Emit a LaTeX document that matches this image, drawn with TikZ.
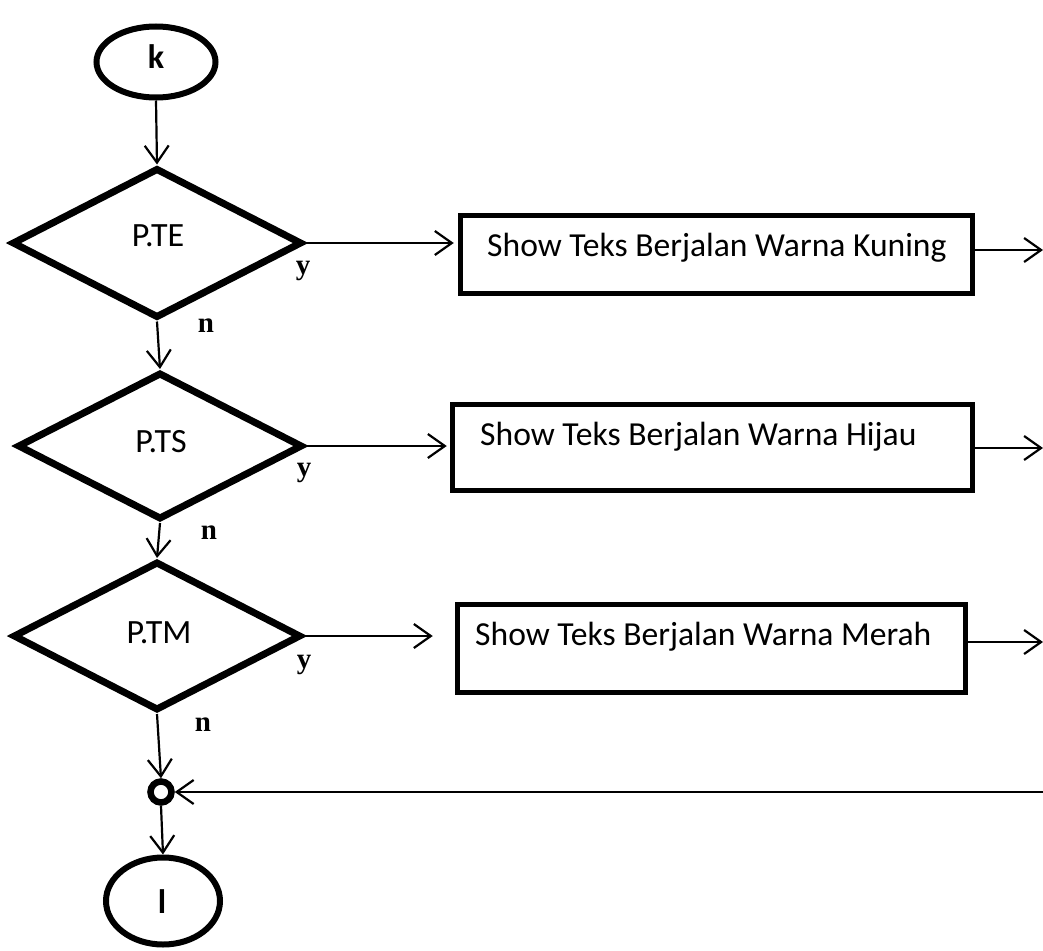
\documentclass[tikz,border=0pt]{standalone}
\usepackage{fontspec}
\setmainfont{Carlito}
\newfontfamily\ynfont{Liberation Serif}
\usetikzlibrary{shapes.geometric,arrows.meta}

\tikzset{
  arr/.style={line width=2.2pt, -{Straight Barb[length=17pt,width=24pt,line width=2.2pt]}},
  decision/.style={shape=diamond, draw, line width=7pt, inner sep=0pt},
  dtext/.style={inner sep=0pt, font=\fontsize{34}{40}\selectfont},
  terminal/.style={shape=ellipse, draw, line width=6pt, inner sep=0pt},
  ttext/.style={inner sep=0pt, font=\bfseries\fontsize{34}{40}\selectfont},
  procbox/.style={draw, line width=5.5pt, inner sep=0pt},
  proctext/.style={anchor=west, inner sep=0pt, font=\fontsize{33.6}{40}\selectfont},
  yn/.style={inner sep=0pt, font=\ynfont\bfseries\fontsize{29}{34}\selectfont},
  joint/.style={shape=circle, draw, line width=6.5pt, minimum size=21pt, inner sep=0pt}
}

\begin{document}
\begin{tikzpicture}[x=1pt, y=-1pt]
\useasboundingbox (0,0) rectangle (1043,950);

% start and end terminals
\node[terminal, minimum width=119pt, minimum height=71pt] (k) at (156,62) {};
\node[terminal, minimum width=114pt, minimum height=87pt] (l) at (163,901) {};
\node[ttext] (kt) at (156,57) {k};
\node[ttext] (lt) at (162,902) {l};

% decisions
\node[decision, minimum width=290pt, minimum height=150pt] (d1) at (157,243) {};
\node[decision, minimum width=285pt, minimum height=147pt] (d2) at (160,446) {};
\node[decision, minimum width=288pt, minimum height=149pt] (d3) at (157,636) {};
\node[dtext] (d1t) at (158,236) {P.TE};
\node[dtext] (d2t) at (161,442) {P.TS};
\node[dtext] (d3t) at (159,633) {P.TM};

% process boxes
\node[procbox, minimum width=512pt, minimum height=78pt] (b1) at (716.5,254.5) {};
\node[procbox, minimum width=520pt, minimum height=86pt] (b2) at (712.5,447.5) {};
\node[procbox, minimum width=508pt, minimum height=88pt] (b3) at (711.5,648.5) {};
\node[proctext] (t1) at (487,248) {Show Teks Berjalan Warna Kuning};
\node[proctext] (t2) at (480,437) {Show Teks Berjalan Warna Hijau};
\node[proctext] (t3) at (475,637) {Show Teks Berjalan Warna Merah};

% connector
\node[joint] (c) at (161,792) {};

% branch labels
\node[yn] (y1) at (303,271) {y};
\node[yn] (n1) at (206,326) {n};
\node[yn] (y2) at (304,473) {y};
\node[yn] (n2) at (209,533) {n};
\node[yn] (y3) at (304,665) {y};
\node[yn] (n3) at (203,725) {n};

% loose ends at the right margin
\coordinate (e1) at (1043,250);
\coordinate (e2) at (1043,448);
\coordinate (e3) at (1043,642);
\coordinate (r)  at (1043,792);

% flow
\draw[arr] (k.south) -- (d1.north);
\draw[arr] (d1.south) -- (d2.north);
\draw[arr] (d2.south) -- (d3.north);
\draw[arr] (d3.south) -- (c.north);
\draw[arr] (c.south) -- (l.north);

\draw[arr, shorten >=4pt] (d1.east) -- (d1.east -| b1.west);
\draw[arr, shorten >=3pt] (d2.east) -- (d2.east -| b2.west);
\draw[arr, shorten >=22pt] (d3.east) -- (d3.east -| b3.west);

\draw[arr] (b1.east |- e1) -- (e1);
\draw[arr] (b2.east |- e2) -- (e2);
\draw[arr] (b3.east |- e3) -- (e3);

\draw[arr] (r) -- (c.east);
\end{tikzpicture}
\end{document}
